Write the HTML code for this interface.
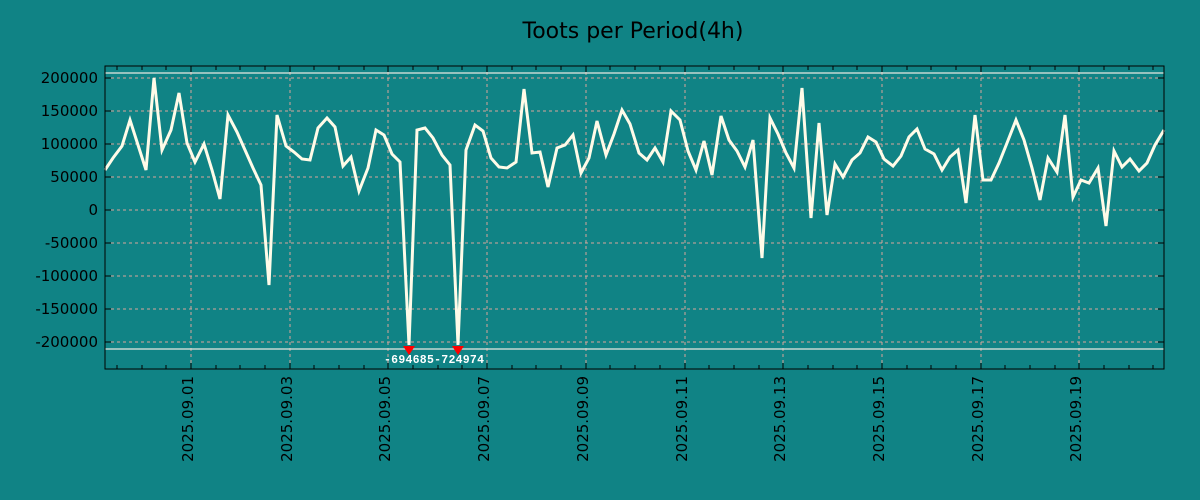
<!DOCTYPE html>
<html><head><meta charset="utf-8"><style>
body{margin:0;background:#108385;}
svg{display:block;font-family:"DejaVu Sans","Liberation Sans",sans-serif;}
</style></head><body>
<svg width="1200" height="500" viewBox="0 0 1200 500">
<rect width="1200" height="500" fill="#108385"/>
<text x="633" y="38" font-size="22" text-anchor="middle" fill="#000">Toots per Period(4h)</text>
<g stroke="#d8a69c" stroke-width="1" stroke-dasharray="3,3">
<line x1="105" x2="1164" y1="78" y2="78"/><line x1="105" x2="1164" y1="111" y2="111"/>
<line x1="105" x2="1164" y1="144" y2="144"/><line x1="105" x2="1164" y1="177" y2="177"/>
<line x1="105" x2="1164" y1="210" y2="210"/><line x1="105" x2="1164" y1="243" y2="243"/>
<line x1="105" x2="1164" y1="276" y2="276"/><line x1="105" x2="1164" y1="309" y2="309"/>
<line x1="105" x2="1164" y1="342" y2="342"/>
<line x1="191" x2="191" y1="66" y2="369"/><line x1="290" x2="290" y1="66" y2="369"/>
<line x1="388" x2="388" y1="66" y2="369"/><line x1="487" x2="487" y1="66" y2="369"/>
<line x1="586" x2="586" y1="66" y2="369"/><line x1="685" x2="685" y1="66" y2="369"/>
<line x1="783" x2="783" y1="66" y2="369"/><line x1="882" x2="882" y1="66" y2="369"/>
<line x1="981" x2="981" y1="66" y2="369"/><line x1="1079" x2="1079" y1="66" y2="369"/>
</g>
<line x1="105" x2="1164" y1="73" y2="73" stroke="#e8e8e0" stroke-width="1.2"/>
<line x1="105" x2="1164" y1="349" y2="349" stroke="#e8e8e0" stroke-width="1.2"/>
<polyline fill="none" stroke="#fffbe8" stroke-width="3" stroke-linejoin="miter" points="105,170 113,158 122,146 130,120 138,145 146,170 154,78 162,150 171,130 179,93 187,143 195,162 204,144 212,170 220,199 228,115 237,132 245,150 253,168 261,185 269,285 277,115 286,146 294,152 302,159 310,160 318,128 327,118 335,127 343,166 351,157 359,191 368,168 376,130 384,135 392,154 400,162 409,345 417,130 425,128 433,138 442,155 450,165 458,345 466,150 475,125 483,131 491,158 499,167 507,168 516,162 524,89 532,153 540,152 548,187 557,148 565,145 573,135 581,173 589,158 597,121 606,155 614,134 622,110 630,124 639,153 647,160 655,148 663,162 671,111 680,120 688,151 696,170 704,141 712,175 721,116 729,140 737,151 745,167 753,140 762,258 770,118 778,134 786,153 794,168 802,88 811,218 819,123 827,215 835,164 843,177 852,160 860,153 868,137 876,142 884,159 893,166 901,156 909,137 917,129 925,149 934,154 942,170 950,157 958,150 966,203 975,115 983,180 991,180 999,163 1007,143 1016,120 1024,140 1032,168 1040,200 1048,158 1057,172 1065,115 1073,197 1081,180 1089,183 1098,168 1106,226 1114,151 1122,167 1130,159 1139,171 1147,163 1155,145 1164,130"/>
<polygon points="403,346 415,346 409,355" fill="#ff0000"/>
<polygon points="452,346 464,346 458,355" fill="#ff0000"/>
<text x="384" y="363" font-size="11.5" font-weight="bold" fill="#fff" font-family="Liberation Mono,monospace" textLength="100">-694685-724974</text>
<rect x="105" y="66" width="1059" height="303" fill="none" stroke="#000" stroke-width="1"/>
<g stroke="#000" stroke-width="1">
<path d="M117,66v4M142,66v4M166,66v4M191,66v6M216,66v4M240,66v4M265,66v4M290,66v6M314,66v4M339,66v4M364,66v4M388,66v6M413,66v4M438,66v4M462,66v4M487,66v6M512,66v4M536,66v4M561,66v4M586,66v6M610,66v4M635,66v4M660,66v4M685,66v6M709,66v4M734,66v4M759,66v4M783,66v6M808,66v4M833,66v4M857,66v4M882,66v6M907,66v4M931,66v4M956,66v4M981,66v6M1005,66v4M1030,66v4M1055,66v4M1079,66v6M1104,66v4M1129,66v4M1153,66v4"/>
<path d="M117,369v-4M142,369v-4M166,369v-4M191,369v-6M216,369v-4M240,369v-4M265,369v-4M290,369v-6M314,369v-4M339,369v-4M364,369v-4M388,369v-6M413,369v-4M438,369v-4M462,369v-4M487,369v-6M512,369v-4M536,369v-4M561,369v-4M586,369v-6M610,369v-4M635,369v-4M660,369v-4M685,369v-6M709,369v-4M734,369v-4M759,369v-4M783,369v-6M808,369v-4M833,369v-4M857,369v-4M882,369v-6M907,369v-4M931,369v-4M956,369v-4M981,369v-6M1005,369v-4M1030,369v-4M1055,369v-4M1079,369v-6M1104,369v-4M1129,369v-4M1153,369v-4"/>
<path d="M105,78h6M105,111h6M105,144h6M105,177h6M105,210h6M105,243h6M105,276h6M105,309h6M105,342h6M1164,78h-6M1164,111h-6M1164,144h-6M1164,177h-6M1164,210h-6M1164,243h-6M1164,276h-6M1164,309h-6M1164,342h-6"/>
</g>
<g font-size="15" fill="#000" text-anchor="end">
<text x="98" y="83">200000</text><text x="98" y="116">150000</text><text x="98" y="149">100000</text>
<text x="98" y="182">50000</text><text x="98" y="215">0</text><text x="98" y="248">-50000</text>
<text x="98" y="281">-100000</text><text x="98" y="314">-150000</text><text x="98" y="347">-200000</text>
</g>
<g font-size="15" fill="#000" text-anchor="end">
<text transform="translate(193,376) rotate(-90)">2025.09.01</text>
<text transform="translate(292,376) rotate(-90)">2025.09.03</text>
<text transform="translate(390,376) rotate(-90)">2025.09.05</text>
<text transform="translate(489,376) rotate(-90)">2025.09.07</text>
<text transform="translate(588,376) rotate(-90)">2025.09.09</text>
<text transform="translate(687,376) rotate(-90)">2025.09.11</text>
<text transform="translate(785,376) rotate(-90)">2025.09.13</text>
<text transform="translate(884,376) rotate(-90)">2025.09.15</text>
<text transform="translate(983,376) rotate(-90)">2025.09.17</text>
<text transform="translate(1081,376) rotate(-90)">2025.09.19</text>
</g>
</svg>
</body></html>
